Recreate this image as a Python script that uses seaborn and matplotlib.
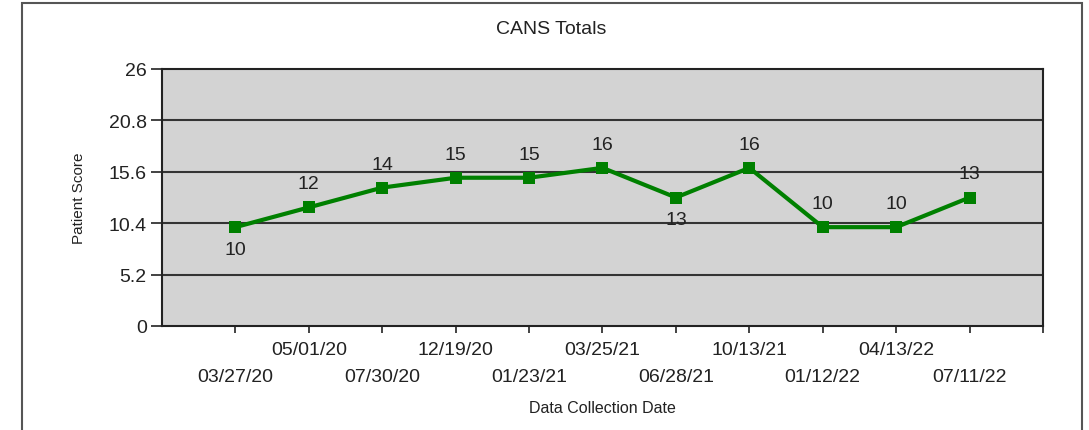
import numpy as np
import pandas as pd
import seaborn as sns
import matplotlib.pyplot as plt
from matplotlib.patches import Rectangle

# --- donnees ---
dates = ["03/27/20", "05/01/20", "07/30/20", "12/19/20", "01/23/21", "03/25/21",
         "06/28/21", "10/13/21", "01/12/22", "04/13/22", "07/11/22"]
scores = [10, 12, 14, 15, 15, 16, 13, 16, 10, 10, 13]
label_below = [True, False, False, False, False, False, True, False, False, False, False]
y_ticks = [0, 5.2, 10.4, 15.6, 20.8, 26]

df = pd.DataFrame({"idx": np.arange(len(dates)), "score": scores})

sns.set_style("white")
plt.rcParams["font.family"] = ["Liberation Sans", "DejaVu Sans"]

fig = plt.figure(figsize=(10.89, 4.31), dpi=100)
ax = fig.add_axes([162 / 1089, 1 - 327 / 431, 881 / 1089, 257 / 431])
ax.set_facecolor("#d3d3d3")

sns.lineplot(data=df, x="idx", y="score", ax=ax, color="#008000", linewidth=3,
             marker="s", markersize=9, markeredgewidth=0, zorder=3)

# etiquettes de valeurs
for i, (v, below) in enumerate(zip(scores, label_below)):
    off = -16 if below else 17
    ax.annotate(str(v), (i, v), xytext=(0, off), textcoords="offset points",
                ha="center", va="center", fontsize=14, color="#222222")

ax.set_xlim(-1, len(dates))
ax.set_ylim(0, 26)
ax.set_yticks(y_ticks)
ax.set_yticklabels([f"{t:g}" for t in y_ticks])
for t in y_ticks[1:-1]:
    ax.axhline(t, color="#333333", lw=1.5, zorder=1)

# deux rangees d'etiquettes : paires en bas, impaires en haut
n = len(dates)
even = list(range(0, n, 2))
odd = list(range(1, n, 2))
ax.set_xticks(even)
ax.set_xticklabels([dates[i] for i in even])
ax.set_xticks(odd + [n], minor=True)
ax.set_xticklabels([dates[i] for i in odd] + [""], minor=True)
ax.tick_params(axis="x", which="major", direction="out", length=5, width=1.2,
               pad=25, labelsize=14, colors="#222222")
ax.tick_params(axis="x", which="minor", direction="out", length=5, width=1.2,
               pad=6, labelsize=14, colors="#222222")
ax.tick_params(axis="y", direction="out", length=8, width=1.2, pad=3,
               labelsize=14, colors="#222222")
ax.tick_params(axis="both", which="both", bottom=True, left=True)

for s in ax.spines.values():
    s.set_color("#222222")
    s.set_linewidth(1.5)

ax.set_xlabel("Data Collection Date", fontsize=11.5, color="#222222")
ax.set_ylabel("Patient Score", fontsize=11, color="#222222")
ax.xaxis.set_label_coords(0.5, -0.288)
ax.yaxis.set_label_coords(-0.086, 0.5)

fig.text(551 / 1089, 1 - 30 / 431, "CANS Totals", ha="center", va="center",
         fontsize=14, color="#222222")

# cadre exterieur
fig.patches.append(Rectangle((22 / 1089, -0.1), 1060 / 1089, 1.1 - 4 / 431,
                             transform=fig.transFigure, fill=False,
                             edgecolor="#555555", lw=1.5))

fig.savefig("out.png", dpi=100)
